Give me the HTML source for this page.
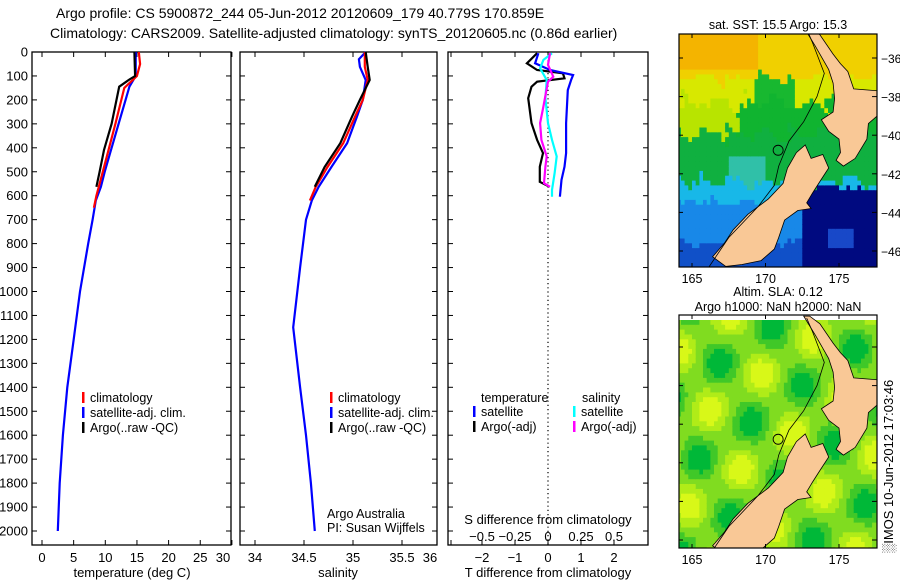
<!DOCTYPE html>
<html><head><meta charset="utf-8"><style>
body{margin:0;background:#fff;}
svg{display:block;font-family:"Liberation Sans",sans-serif;}
</style></head><body>
<svg id="s" width="900" height="580" viewBox="0 0 900 580">
<rect width="900" height="580" fill="#fff"/>
<text x="56" y="18" font-size="14">Argo profile: CS 5900872_244 05-Jun-2012 20120609_179 40.779S 170.859E</text>
<text x="50" y="38" font-size="14">Climatology: CARS2009. Satellite-adjusted climatology: synTS_20120605.nc (0.86d earlier)</text>
<g id="g"></g>
</svg>
<script>
// ---- data ----
const tDepthRed=[0,50,100,150,300,400,500,600,650];
const tRed=[15.3,15.5,15.0,13.0,11.6,10.6,9.6,8.6,8.2];
const tDepthArgo=[0,100,115,145,300,409,500,563];
const tArgo=[14.6,14.7,13.8,12.2,11.0,9.8,9.1,8.6];
const tDepthSat=[0,100,145,300,409,500,563,620,700,800,1000,1200,1400,1600,1800,2000];
const tSat=[14.8,14.8,13.8,12.1,10.9,9.9,9.3,8.5,8.0,7.3,6.0,5.0,4.0,3.3,2.8,2.5];
const sDepthRed=[0,62,117,200,270,381,480,563,620];
const sRed=[35.12,35.12,35.15,35.1,35.02,34.9,34.74,34.62,34.56];
const sDepthArgo=[0,62,117,200,270,381,480,563];
const sArgo=[35.13,35.15,35.17,35.07,34.99,34.87,34.71,34.61];
const sDepthSat=[0,30,62,117,200,270,381,480,563,620,700,900,1150,1400,1600,1800,2000];
const sSat=[35.13,35.06,35.07,35.13,35.1,35.04,34.94,34.78,34.65,34.58,34.52,34.46,34.39,34.46,34.52,34.57,34.61];
const dTDepthArgo=[5,47,75,89,110,124,145,193,297,367,422,479,542,563];
const dTArgo=[-0.33,-0.64,-0.33,0.45,0.5,-0.33,-0.5,-0.6,-0.5,-0.33,-0.15,-0.25,-0.25,0.05];
const dTDepthSat=[5,47,75,96,117,159,297,422,479,534,604];
const dTSat=[-0.29,-0.39,0.06,0.76,0.7,0.6,0.55,0.55,0.5,0.41,0.36];
const dSDepthSat=[5,33,68,117,193,297,367,436,506,576,604];
const dSSat=[0.03,-0.035,-0.06,-0.01,-0.02,0.0,0.03,0.066,0.05,0.03,0.03];
const dSDepthArgo=[5,54,103,124,228,297,367,436,479,548,563];
const dSArgo=[0.015,0.0,0.04,0.0,-0.035,-0.06,-0.05,-0.01,-0.02,-0.03,0.015];
const depthTicks=[0,100,200,300,400,500,600,700,800,900,1000,1100,1200,1300,1400,1500,1600,1700,1800,1900,2000];
const tTicks=[0,5,10,15,20,25,30];
const sTicks=[34,34.5,35,35.5,36];
const dTTicks=[-2,-1,0,1,2];
const dSTicks=[-0.5,-0.25,0,0.25,0.5];
const dSLabels=["\u22120.5","\u22120.25","0","0.25","0.5"];
const latTicks=[-36,-38,-40,-42,-44,-46];
const lonTicks=[165,170,175];

const NS="http://www.w3.org/2000/svg";
const G=document.getElementById('g');
function mk(t,a,p){const e=document.createElementNS(NS,t);for(const k in a)e.setAttribute(k,a[k]);(p||G).appendChild(e);return e;}
function tx(x,y,s,o){const e=mk('text',Object.assign({x:x,y:y,'font-size':13},o||{}));e.textContent=s;return e;}
const yD=d=>52+d*0.2395;
const xT=v=>42+v*6.33;
const xS=v=>255+(v-34)*98;
const xDT=v=>548+v*33;
const xDS=v=>548+v*132;

function panel(x0,x1,name){
  const r=mk('rect',{x:x0,y:52,width:x1-x0,height:493,fill:'none',stroke:'#000','stroke-width':1.3});
  
  
  depthTicks.forEach(d=>{mk('line',{x1:x0,x2:x0+5,y1:yD(d),y2:yD(d),stroke:'#000'});mk('line',{x1:x1-5,x2:x1,y1:yD(d),y2:yD(d),stroke:'#000'});});
}
function line(xs,ds,fx,col,name,w){
  const p=xs.map((v,i)=>fx(v).toFixed(1)+','+yD(ds[i]).toFixed(1)).join(' ');
  const e=mk('polyline',{points:p,fill:'none',stroke:col,'stroke-width':w||2.2});
  
  
}
function leg(x,y,col,label,name){
  mk('rect',{x:x,y:y-10,width:2.5,height:11,fill:col});
  const t=tx(x+8,y,label,{'font-size':12.5});
  
  
}
depthTicks.forEach(d=>{const t=tx(28,yD(d)+4.5,String(d),{'text-anchor':'end'});});

// panel 1
panel(32,231,'temperature-panel');
tTicks.forEach(v=>{mk('line',{x1:xT(v),x2:xT(v),y1:545,y2:540,stroke:'#000'});mk('line',{x1:xT(v),x2:xT(v),y1:52,y2:57,stroke:'#000'});const t=tx(Math.min(xT(v),223),562,String(v),{'text-anchor':'middle'});});
tx(132,577,'temperature (deg C)',{'text-anchor':'middle'});
line(tSat,tDepthSat,xT,'#0000ff','temperature-satellite-line');
line(tRed,tDepthRed,xT,'#ff0000','temperature-climatology-line');
line(tArgo,tDepthArgo,xT,'#000','temperature-argo-line');
leg(82,402,'#f00','climatology','legend-climatology');
leg(82,417,'#00f','satellite-adj. clim.','legend-satellite-adj');
leg(82,432,'#000','Argo(..raw -QC)','legend-argo-raw');

// panel 2
panel(240,437,'salinity-panel');
sTicks.forEach(v=>{mk('line',{x1:xS(v),x2:xS(v),y1:545,y2:540,stroke:'#000'});mk('line',{x1:xS(v),x2:xS(v),y1:52,y2:57,stroke:'#000'});const t=tx(Math.min(xS(v),430),562,String(v),{'text-anchor':'middle'});});
tx(338,577,'salinity',{'text-anchor':'middle'});
line(sSat,sDepthSat,xS,'#0000ff','salinity-satellite-line');
line(sRed,sDepthRed,xS,'#ff0000','salinity-climatology-line');
line(sArgo,sDepthArgo,xS,'#000','salinity-argo-line');
leg(330,402,'#f00','climatology','legend-climatology-2');
leg(330,417,'#00f','satellite-adj. clim.','legend-satellite-adj-2');
leg(330,432,'#000','Argo(..raw -QC)','legend-argo-raw-2');
tx(327,518,'Argo Australia',{'font-size':12.5});
tx(327,532,'PI: Susan Wijffels',{'font-size':12.5});

// panel 3
panel(448,648,'difference-panel');
mk('line',{x1:548,x2:548,y1:52,y2:545,stroke:'#000','stroke-dasharray':'1.2,3','stroke-width':1.2});
dTTicks.forEach(v=>{mk('line',{x1:xDT(v),x2:xDT(v),y1:545,y2:540,stroke:'#000'});mk('line',{x1:xDT(v),x2:xDT(v),y1:52,y2:57,stroke:'#000'});const t=tx(xDT(v),562,String(v).replace('-','\u2212'),{'text-anchor':'middle'});});
dSTicks.forEach((v,i)=>{mk('line',{x1:xDS(v),x2:xDS(v),y1:545,y2:540,stroke:'#000'});const t=tx(xDS(v),541,dSLabels[i],{'text-anchor':'middle'});});
tx(548,524,'S difference from climatology',{'text-anchor':'middle'});
tx(548,577,'T difference from climatology',{'text-anchor':'middle'});
line(dTArgo,dTDepthArgo,xDT,'#000','t-diff-argo-line');
line(dTSat,dTDepthSat,xDT,'#0000ff','t-diff-satellite-line');
line(dSSat,dSDepthSat,xDS,'#00ffff','s-diff-satellite-line');
line(dSArgo,dSDepthArgo,xDS,'#ff00ff','s-diff-argo-line');
tx(481,402,'temperature',{'font-size':12.5});
tx(582,402,'salinity',{'font-size':12.5});
leg(473,416,'#00f','satellite','legend-t-satellite');
leg(473,431,'#000','Argo(-adj)','legend-t-argo');
leg(573,416,'#0ff','satellite','legend-s-satellite');
leg(573,431,'#f0f','Argo(-adj)','legend-s-argo');

// maps
function mapPanel(y0,latTop,title1,title2,colorFn,name,showLat){
  const x0=679,x1=877,y1=y0+233;
  const lx=lon=>692+(lon-165)*14.7;
  const ly=lat=>latTop+(-36-lat)*19.3;
  const gm=mk('g',{});
  
  
  const cid='clip'+y0;
  const cp=mk('clipPath',{id:cid},gm);mk('rect',{x:x0,y:y0,width:x1-x0,height:y1-y0},cp);
  const inner=mk('g',{'clip-path':'url(#'+cid+')'},gm);
  for(let lon=164.0;lon<177.6;lon+=0.25){for(let lat=-34.6;lat>-47.3;lat-=0.25){
    mk('rect',{x:lx(lon).toFixed(1),y:ly(lat).toFixed(1),width:4.2,height:5.4,fill:colorFn(lon,lat)},inner);}}
  const SI=[[166.4,-46.3],[167.2,-45.6],[167.8,-44.9],[168.8,-44.1],[170.2,-43.3],[171.2,-42.5],[171.5,-41.7],[172.1,-40.9],[172.7,-40.5],[173.1,-41.2],[173.9,-41.0],[174.3,-41.7],[173.7,-42.4],[173.2,-43.0],[172.8,-43.5],[173.1,-43.8],[172.2,-43.9],[171.3,-44.4],[170.9,-45.3],[170.6,-45.9],[169.7,-46.5],[168.4,-46.7],[167.3,-46.8]];
  const NI=[[174.8,-41.3],[175.3,-41.6],[176.1,-41.2],[176.9,-40.2],[177.0,-39.4],[177.6,-39.0],[177.6,-37.7],[176.0,-37.6],[175.6,-36.7],[175.1,-36.3],[174.6,-35.8],[173.7,-34.8],[173.0,-34.4],[172.6,-34.4],[173.4,-35.4],[174.3,-36.6],[174.6,-37.3],[174.7,-38.1],[174.6,-38.8],[173.8,-39.2],[174.3,-39.8],[175.0,-40.2],[175.1,-40.9]];
  [SI,NI].forEach((poly,i)=>{const e=mk('polygon',{points:poly.map(p=>lx(p[0]).toFixed(1)+','+ly(p[1]).toFixed(1)).join(' '),fill:'#f9c896',stroke:'#000','stroke-width':0.8},inner);
    
    });
  const C=[[166.0,-47],[167.5,-45.3],[169.5,-43.7],[170.6,-42.6],[170.9,-41.6],[171.6,-40.3],[172.6,-39.3],[173.5,-38.0],[174.0,-36.8],[173.2,-35.2],[172.8,-34.5]];
  mk('polyline',{points:C.map(p=>lx(p[0]).toFixed(1)+','+ly(p[1]).toFixed(1)).join(' '),fill:'none',stroke:'#000','stroke-width':0.8},inner);
  mk('circle',{cx:lx(170.86),cy:ly(-40.78),r:5,fill:'none',stroke:'#000','stroke-width':0.9},inner);
  mk('rect',{x:x0,y:y0,width:x1-x0,height:y1-y0,fill:'none',stroke:'#000','stroke-width':1.2},gm);
  latTicks.forEach(l=>{mk('line',{x1:x1-5,x2:x1,y1:ly(l),y2:ly(l),stroke:'#000'},gm);mk('line',{x1:x0,x2:x0+4,y1:ly(l),y2:ly(l),stroke:'#000'},gm);
    if(showLat){const t=tx(881,ly(l)+5,String(l).replace('-','\u2212'),{'font-size':12});gm.appendChild(t);}});
  lonTicks.forEach(l=>{mk('line',{x1:lx(l),x2:lx(l),y1:y0,y2:y0+4,stroke:'#000'},gm);mk('line',{x1:lx(l),x2:lx(l),y1:y1-4,y2:y1,stroke:'#000'},gm);const t=tx(lx(l),y1+16,String(l),{'text-anchor':'middle','font-size':12.5});gm.appendChild(t);});
  if(title1){const t=tx(778,y0-(title2?19:5),title1,{'text-anchor':'middle','font-size':12.5});}
  if(title2){const t=tx(778,y0-4,title2,{'text-anchor':'middle','font-size':12.5});}
}
function sst(lon,lat){
  const n=Math.sin(lon*3.1+lat*2.3)*0.4+Math.cos(lon*1.7-lat*4.1)*0.3+Math.sin(lon*7.3+lat*5.1)*0.25;
  if(lon>172.3&&lat<-42.6+n*0.3) return (lat<-44.8&&lat>-45.8&&lon>174&&lon<176)?'#1848c8':'#000a80';
  if(lat>-36.9+n*0.5) return (lon<169.5&&lat>-36.6)?'#f4b400':'#f0d000';
  if(lat>-38.2+n*0.8) return (lon>169&&lon<172)?'#18b830':'#d8e800';
  if(lat>-39.8+n*0.8) return (lon<168+n)?'#b8e400':'#10b430';
  if(lat>-42.3+n*0.6) return (lon>167.3&&lon<169.8&&lat<-40.9)?'#30c0a8':'#10b040';
  if(lat>-43.4+n*0.4) return '#18b8e8';
  if(lat>-45.5+n*0.4) return '#1888e8';
  return '#1050c8';
}
function sla(lon,lat){
  const n=Math.sin(lon*1.3+lat*0.9)+Math.cos(lon*0.8-lat*1.5);
  if(n>1.3) return '#00b838';
  if(n>0.5) return '#40c828';
  if(n>-0.5) return '#80dc20';
  if(n>-1.3) return '#b0ec18';
  return '#d8f818';
}
mapPanel(34,58,'sat. SST: 15.5  Argo: 15.3',null,sst,'sst-map',true);
mapPanel(315,347,'Altim. SLA: 0.12','Argo h1000: NaN h2000: NaN',sla,'sla-map',false);
const ts=tx(0,0,'\u2591IMOS 10-Jun-2012 17:03:46',{'font-size':13,transform:'translate(893,553) rotate(-90)'});


</script>
</body></html>
